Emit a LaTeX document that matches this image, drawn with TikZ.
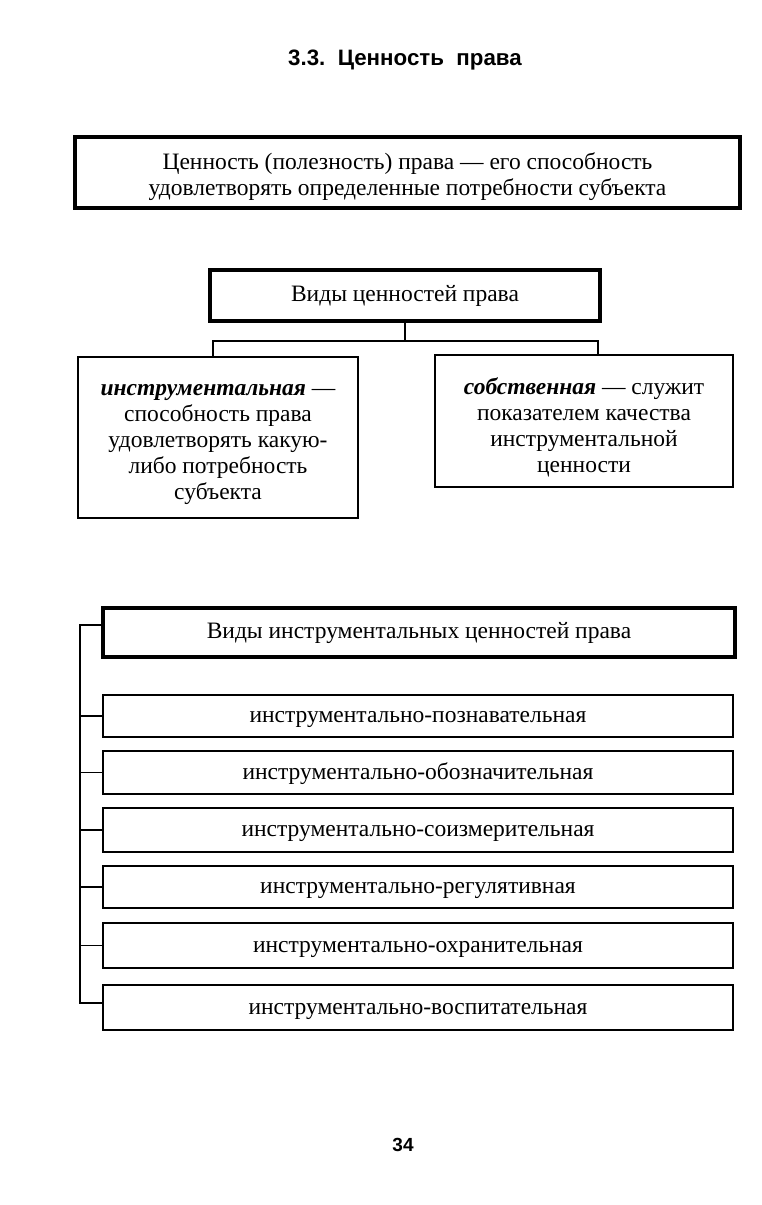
\documentclass[tikz,border=0pt]{standalone}
\usepackage{fontspec}
\setmainfont{Liberation Serif}
\newfontfamily\headfont{Liberation Sans}
\newcommand\firstup[1]{\rule{0pt}{#1pt}}
\begin{document}
\begin{tikzpicture}[x=1pt,y=-1pt,
  txt/.style={font=\fontsize{23.5}{26}\selectfont, align=center, inner sep=0pt},
  oneline/.style={text height=16pt, text depth=5pt},
  lowline/.style={text height=18pt, text depth=5pt},
  thickbox/.style={txt, draw, line width=3.5pt, rectangle},
  thinbox/.style={txt, draw, line width=1.1pt, rectangle},
  conn/.style={line width=1.1pt}]
\useasboundingbox (0,0) rectangle (761,1205);
\node[font=\headfont\bfseries\fontsize{22.3}{26}\selectfont, inner sep=0pt] (title) at (405,60) {3.3.\ \ Ценность\ \ права};
\node[thickbox, minimum width=665pt, minimum height=71pt] (def) at (407.5,172.5)
  {\firstup{25}Ценность (полезность) права — его способность\\удовлетворять определенные потребности субъекта};
\node[thickbox, oneline, minimum width=390pt, minimum height=51pt] (kinds) at (405,295.5) {Виды ценностей права};
\node[thinbox, minimum width=280pt, minimum height=161pt] (instr) at (218,437.5)
  {\firstup{25}\textbf{\textit{инструментальная}} —\\способность права\\удовлетворять какую-\\либо потребность\\субъекта};
\node[thinbox, minimum width=298pt, minimum height=132pt] (own) at (584,421)
  {\firstup{30}\textbf{\textit{собственная}} — служит\\показателем качества\\инструментальной\\ценности};
\coordinate (jl) at (213,341);
\coordinate (jr) at (598,341);
\draw[conn] (kinds.south) -- (kinds.south |- jl);
\draw[conn] (jl |- instr.north) -- (jl) -- (jr) -- (jr |- own.north);
\node[thickbox, oneline, minimum width=632pt, minimum height=49pt] (ihead) at (419,632.5) {Виды инструментальных ценностей права};
\node[thinbox, lowline, minimum width=630pt, minimum height=42pt] (i1) at (418,716) {инструментально-познавательная};
\node[thinbox, lowline, minimum width=630pt, minimum height=43pt] (i2) at (418,772.5) {инструментально-обозначительная};
\node[thinbox, lowline, minimum width=630pt, minimum height=44pt] (i3) at (418,830) {инструментально-соизмерительная};
\node[thinbox, lowline, minimum width=630pt, minimum height=42pt] (i4) at (418,887) {инструментально-регулятивная};
\node[thinbox, lowline, minimum width=630pt, minimum height=45pt] (i5) at (418,945.5) {инструментально-охранительная};
\node[thinbox, lowline, minimum width=630pt, minimum height=45pt] (i6) at (418,1007.5) {инструментально-воспитательная};
\coordinate (ttop) at (80,625);
\coordinate (tbot) at (80,1003);
\draw[conn] (ttop -| ihead.west) -- (ttop) -- (tbot) -- (tbot -| i6.west);
\foreach \n in {i1,i2,i3,i4,i5}{
  \draw[conn] (\n.west -| ttop) -- (\n.west);
}
\node[font=\headfont\bfseries\fontsize{19}{23}\selectfont, inner sep=0pt] (page) at (403,1145) {34};
\end{tikzpicture}
\end{document}
